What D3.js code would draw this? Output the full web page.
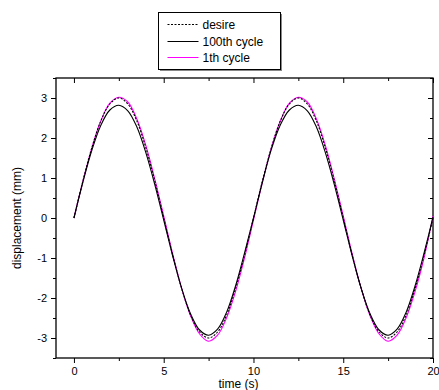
<!DOCTYPE html>
<html>
<head>
<meta charset="utf-8">
<script src="https://cdn.jsdelivr.net/npm/d3@7"></script>
<style>
  body { margin: 0; background: #fff; }
  svg { font-family: "Liberation Sans", Arial, sans-serif; }
</style>
</head>
<body>
<div id="chart"></div>
<script>
// time samples (s)
const time = d3.range(0, 20.01, 0.5);

const desire = [0, 0.93, 1.76, 2.43, 2.85, 3.0, 2.85, 2.43, 1.76, 0.93, 0, -0.93, -1.76, -2.43, -2.85, -3.0, -2.85, -2.43, -1.76, -0.93,
  0, 0.93, 1.76, 2.43, 2.85, 3.0, 2.85, 2.43, 1.76, 0.93, 0, -0.93, -1.76, -2.43, -2.85, -3.0, -2.85, -2.43, -1.76, -0.93, 0];

const cycle100 = [0, 0.90, 1.70, 2.32, 2.70, 2.82, 2.68, 2.28, 1.64, 0.84, -0.05, -0.95, -1.76, -2.40, -2.80, -2.93, -2.78, -2.36, -1.70, -0.88,
  0.0, 0.90, 1.72, 2.33, 2.70, 2.82, 2.68, 2.28, 1.64, 0.84, -0.05, -0.95, -1.76, -2.40, -2.80, -2.93, -2.78, -2.36, -1.70, -0.88, 0.02];

const cycle1 = [0, 0.92, 1.76, 2.43, 2.87, 3.02, 2.90, 2.48, 1.82, 0.98, 0.05, -0.90, -1.76, -2.45, -2.90, -3.08, -2.93, -2.50, -1.84, -1.0,
  -0.05, 0.90, 1.76, 2.43, 2.87, 3.02, 2.90, 2.48, 1.82, 0.98, 0.05, -0.90, -1.76, -2.45, -2.90, -3.08, -2.93, -2.50, -1.84, -1.0, 0.05];

const xTicks = [0, 5, 10, 15, 20];
const xMinor = [2.5, 7.5, 12.5, 17.5];
const yTicks = [-3, -2, -1, 0, 1, 2, 3];
const yMinor = [-3.5, -2.5, -1.5, -0.5, 0.5, 1.5, 2.5, 3.5];

const series = [
  { name: "desire", values: desire, color: "#000", dash: "2,1.5" },
  { name: "100th cycle", values: cycle100, color: "#000", dash: null },
  { name: "1th cycle", values: cycle1, color: "#ff00ff", dash: null }
];

const width = 439, height = 390;
const margin = { top: 78, right: 6, bottom: 32, left: 56 };
const iw = width - margin.left - margin.right;
const ih = height - margin.top - margin.bottom;

const svg = d3.select("#chart").append("svg")
  .attr("width", width)
  .attr("height", height);

const g = svg.append("g")
  .attr("transform", `translate(${margin.left},${margin.top})`);

const x = d3.scaleLinear().domain([-1, 20]).range([0, iw]);
const y = d3.scaleLinear().domain([-3.5, 3.5]).range([ih, 0]);

// axes: bottom + left outward, top + right inward
g.append("g").attr("transform", `translate(0,${ih})`)
  .call(d3.axisBottom(x).tickValues(xTicks).tickSize(5).tickPadding(4).tickFormat(d => String(d)));
g.append("g").attr("transform", `translate(0,${ih})`)
  .call(d3.axisBottom(x).tickValues(xMinor).tickSize(3).tickFormat(""));
g.append("g")
  .call(d3.axisBottom(x).tickValues(xTicks).tickSize(5).tickFormat(""));
g.append("g")
  .call(d3.axisBottom(x).tickValues(xMinor).tickSize(3).tickFormat(""));

g.append("g")
  .call(d3.axisLeft(y).tickValues(yTicks).tickSize(5).tickPadding(4).tickFormat(d => String(d)));
g.append("g")
  .call(d3.axisLeft(y).tickValues(yMinor).tickSize(3).tickFormat(""));
g.append("g").attr("transform", `translate(${iw},0)`)
  .call(d3.axisLeft(y).tickValues(yTicks).tickSize(5).tickFormat(""));
g.append("g").attr("transform", `translate(${iw},0)`)
  .call(d3.axisLeft(y).tickValues(yMinor).tickSize(3).tickFormat(""));

g.selectAll(".domain").remove();
g.selectAll(".tick line").attr("stroke", "#000").attr("stroke-width", 1);
g.selectAll(".tick text").attr("fill", "#000").style("font-size", "11px");

// frame
g.append("rect")
  .attr("width", iw).attr("height", ih)
  .attr("fill", "none").attr("stroke", "#000").attr("stroke-width", 1.3);

// lines
const line = d3.line()
  .x((d, i) => x(time[i]))
  .y(d => y(d))
  .curve(d3.curveCatmullRom);

g.selectAll("path.series")
  .data(series.slice().reverse())
  .enter()
  .append("path")
  .attr("class", "series")
  .attr("d", d => line(d.values))
  .attr("fill", "none")
  .attr("stroke", d => d.color)
  .attr("stroke-width", 1.1)
  .attr("stroke-dasharray", d => d.dash);

// axis titles
svg.append("text")
  .attr("x", margin.left + iw / 2 - 6)
  .attr("y", 388)
  .attr("text-anchor", "middle")
  .style("font-size", "12px")
  .text("time (s)");

svg.append("text")
  .attr("transform", `translate(21,${margin.top + ih / 2}) rotate(-90)`)
  .attr("text-anchor", "middle")
  .style("font-size", "12px")
  .text("displacement (mm)");

// legend
const lg = svg.append("g").attr("transform", "translate(158.5,12.5)");
lg.append("rect").attr("x", 1.5).attr("y", 1.5).attr("width", 122).attr("height", 57).attr("fill", "#888");
lg.append("rect").attr("width", 122).attr("height", 57).attr("fill", "#fff").attr("stroke", "#000").attr("stroke-width", 1);

const items = lg.selectAll("g.item")
  .data(series)
  .enter()
  .append("g")
  .attr("transform", (d, i) => `translate(0,${Math.round(12 + i * 16.5)})`);

items.append("line")
  .attr("x1", 9).attr("x2", 40)
  .attr("stroke", d => d.color)
  .attr("stroke-width", 1)
  .attr("stroke-dasharray", d => d.dash);

items.append("text")
  .attr("x", 44)
  .attr("dy", "0.35em")
  .style("font-size", "12px")
  .text(d => d.name);
</script>
</body>
</html>
